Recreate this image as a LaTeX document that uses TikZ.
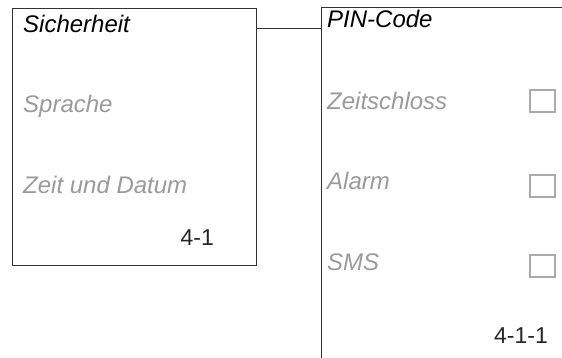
\documentclass[tikz,border=0pt]{standalone}
\usepackage{fontspec}
\setmainfont{Liberation Sans}
\definecolor{linegray}{HTML}{333333}
\definecolor{itemgray}{HTML}{9A9A9A}
\definecolor{boxgray}{HTML}{AAAAAA}
\tikzset{
  frame/.style={draw=linegray, line width=1pt},
  title/.style={anchor=base west, inner sep=0pt, font=\fontsize{24}{24}\selectfont\itshape, text=black},
  item/.style={anchor=base west, inner sep=0pt, font=\fontsize{24}{24}\selectfont\itshape, text=itemgray},
  code/.style={anchor=base east, inner sep=0pt, font=\fontsize{23}{23}\selectfont, text=black!85},
  check/.style={draw=boxgray, line width=1.2pt, minimum width=25pt, minimum height=22pt, inner sep=0pt}
}
\begin{document}
\begin{tikzpicture}[x=1pt,y=-1pt]
\useasboundingbox (0,0) rectangle (562,358);
% left menu box
\node[frame, anchor=north west, minimum width=244pt, minimum height=257pt, inner sep=0pt] (menu) at (12,8) {};
\node[title] (sich) at (23,33) {Sicherheit};
\node[item] (spr) at (23,113) {Sprache};
\node[item] (zeit) at (23,194) {Zeit und Datum};
\node[code] (c41) at (214,245) {4-1};
% right panel
\coordinate (ptop) at (321,8);
\coordinate (pbot) at (321,358);
\coordinate (pright) at (562,8);
\coordinate (pin) at (321,29);
\draw[frame] (pbot) -- (ptop) -- (pright);
\draw[frame] (menu.east |- pin) -- (pin);
\node[title] (pinc) at (327,28) {PIN-Code};
\node[item] (zs) at (327,110) {Zeitschloss};
\node[item] (al) at (327,190) {Alarm};
\node[item] (sms) at (327,270) {SMS};
\node[check] (b1) at (542.5,101) {};
\node[check] (b2) at (542.5,186) {};
\node[check] (b3) at (542.5,266) {};
\node[code] (c411) at (548,343) {4-1-1};
\end{tikzpicture}
\end{document}
